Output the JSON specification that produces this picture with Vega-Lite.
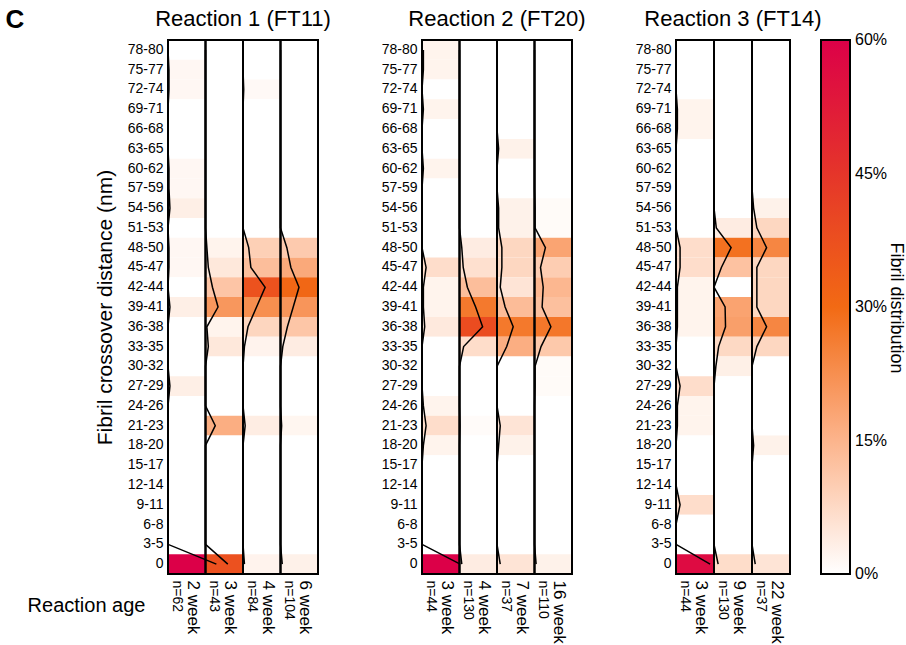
{
"$schema": "https://vega.github.io/schema/vega-lite/v6.json",
"background": "white",
"padding": {"left": 5, "right": 0, "top": 7, "bottom": 5},
"title": {"text": "C", "orient": "left", "anchor": "end", "angle": 0, "fontSize": 26, "fontWeight": "bold", "font": "Liberation Sans", "baseline": "top", "offset": -17, "color": "black"},
"config": {
  "font": "Liberation Sans",
  "view": {"stroke": "black", "strokeWidth": 2},
  "axis": {"labelColor": "black", "titleColor": "black", "labelFont": "Liberation Sans", "titleFont": "Liberation Sans"},
  "legend": {"labelColor": "black", "titleColor": "black"},
  "title": {"color": "black"}
},
"datasets": {"cells": [
{"reaction":"R1","age":"2 week|n=62","bin":"78-80","lo":78,"share":0},
{"reaction":"R1","age":"2 week|n=62","bin":"75-77","lo":75,"share":0.016},
{"reaction":"R1","age":"2 week|n=62","bin":"72-74","lo":72,"share":0.016},
{"reaction":"R1","age":"2 week|n=62","bin":"69-71","lo":69,"share":0},
{"reaction":"R1","age":"2 week|n=62","bin":"66-68","lo":66,"share":0},
{"reaction":"R1","age":"2 week|n=62","bin":"63-65","lo":63,"share":0},
{"reaction":"R1","age":"2 week|n=62","bin":"60-62","lo":60,"share":0.016},
{"reaction":"R1","age":"2 week|n=62","bin":"57-59","lo":57,"share":0.016},
{"reaction":"R1","age":"2 week|n=62","bin":"54-56","lo":54,"share":0.032},
{"reaction":"R1","age":"2 week|n=62","bin":"51-53","lo":51,"share":0},
{"reaction":"R1","age":"2 week|n=62","bin":"48-50","lo":48,"share":0.016},
{"reaction":"R1","age":"2 week|n=62","bin":"45-47","lo":45,"share":0.016},
{"reaction":"R1","age":"2 week|n=62","bin":"42-44","lo":42,"share":0},
{"reaction":"R1","age":"2 week|n=62","bin":"39-41","lo":39,"share":0.032},
{"reaction":"R1","age":"2 week|n=62","bin":"36-38","lo":36,"share":0},
{"reaction":"R1","age":"2 week|n=62","bin":"33-35","lo":33,"share":0},
{"reaction":"R1","age":"2 week|n=62","bin":"30-32","lo":30,"share":0},
{"reaction":"R1","age":"2 week|n=62","bin":"27-29","lo":27,"share":0.032},
{"reaction":"R1","age":"2 week|n=62","bin":"24-26","lo":24,"share":0},
{"reaction":"R1","age":"2 week|n=62","bin":"21-23","lo":21,"share":0},
{"reaction":"R1","age":"2 week|n=62","bin":"18-20","lo":18,"share":0},
{"reaction":"R1","age":"2 week|n=62","bin":"15-17","lo":15,"share":0},
{"reaction":"R1","age":"2 week|n=62","bin":"12-14","lo":12,"share":0},
{"reaction":"R1","age":"2 week|n=62","bin":"9-11","lo":9,"share":0},
{"reaction":"R1","age":"2 week|n=62","bin":"6-8","lo":6,"share":0},
{"reaction":"R1","age":"2 week|n=62","bin":"3-5","lo":3,"share":0},
{"reaction":"R1","age":"2 week|n=62","bin":"0","lo":0,"share":0.806},
{"reaction":"R1","age":"3 week|n=43","bin":"78-80","lo":78,"share":0},
{"reaction":"R1","age":"3 week|n=43","bin":"75-77","lo":75,"share":0},
{"reaction":"R1","age":"3 week|n=43","bin":"72-74","lo":72,"share":0},
{"reaction":"R1","age":"3 week|n=43","bin":"69-71","lo":69,"share":0},
{"reaction":"R1","age":"3 week|n=43","bin":"66-68","lo":66,"share":0},
{"reaction":"R1","age":"3 week|n=43","bin":"63-65","lo":63,"share":0},
{"reaction":"R1","age":"3 week|n=43","bin":"60-62","lo":60,"share":0},
{"reaction":"R1","age":"3 week|n=43","bin":"57-59","lo":57,"share":0},
{"reaction":"R1","age":"3 week|n=43","bin":"54-56","lo":54,"share":0},
{"reaction":"R1","age":"3 week|n=43","bin":"51-53","lo":51,"share":0},
{"reaction":"R1","age":"3 week|n=43","bin":"48-50","lo":48,"share":0.023},
{"reaction":"R1","age":"3 week|n=43","bin":"45-47","lo":45,"share":0.047},
{"reaction":"R1","age":"3 week|n=43","bin":"42-44","lo":42,"share":0.116},
{"reaction":"R1","age":"3 week|n=43","bin":"39-41","lo":39,"share":0.209},
{"reaction":"R1","age":"3 week|n=43","bin":"36-38","lo":36,"share":0.023},
{"reaction":"R1","age":"3 week|n=43","bin":"33-35","lo":33,"share":0.047},
{"reaction":"R1","age":"3 week|n=43","bin":"30-32","lo":30,"share":0},
{"reaction":"R1","age":"3 week|n=43","bin":"27-29","lo":27,"share":0},
{"reaction":"R1","age":"3 week|n=43","bin":"24-26","lo":24,"share":0},
{"reaction":"R1","age":"3 week|n=43","bin":"21-23","lo":21,"share":0.163},
{"reaction":"R1","age":"3 week|n=43","bin":"18-20","lo":18,"share":0},
{"reaction":"R1","age":"3 week|n=43","bin":"15-17","lo":15,"share":0},
{"reaction":"R1","age":"3 week|n=43","bin":"12-14","lo":12,"share":0},
{"reaction":"R1","age":"3 week|n=43","bin":"9-11","lo":9,"share":0},
{"reaction":"R1","age":"3 week|n=43","bin":"6-8","lo":6,"share":0},
{"reaction":"R1","age":"3 week|n=43","bin":"3-5","lo":3,"share":0},
{"reaction":"R1","age":"3 week|n=43","bin":"0","lo":0,"share":0.372},
{"reaction":"R1","age":"4 week|n=84","bin":"78-80","lo":78,"share":0},
{"reaction":"R1","age":"4 week|n=84","bin":"75-77","lo":75,"share":0},
{"reaction":"R1","age":"4 week|n=84","bin":"72-74","lo":72,"share":0.012},
{"reaction":"R1","age":"4 week|n=84","bin":"69-71","lo":69,"share":0},
{"reaction":"R1","age":"4 week|n=84","bin":"66-68","lo":66,"share":0},
{"reaction":"R1","age":"4 week|n=84","bin":"63-65","lo":63,"share":0},
{"reaction":"R1","age":"4 week|n=84","bin":"60-62","lo":60,"share":0},
{"reaction":"R1","age":"4 week|n=84","bin":"57-59","lo":57,"share":0},
{"reaction":"R1","age":"4 week|n=84","bin":"54-56","lo":54,"share":0},
{"reaction":"R1","age":"4 week|n=84","bin":"51-53","lo":51,"share":0},
{"reaction":"R1","age":"4 week|n=84","bin":"48-50","lo":48,"share":0.095},
{"reaction":"R1","age":"4 week|n=84","bin":"45-47","lo":45,"share":0.131},
{"reaction":"R1","age":"4 week|n=84","bin":"42-44","lo":42,"share":0.369},
{"reaction":"R1","age":"4 week|n=84","bin":"39-41","lo":39,"share":0.226},
{"reaction":"R1","age":"4 week|n=84","bin":"36-38","lo":36,"share":0.083},
{"reaction":"R1","age":"4 week|n=84","bin":"33-35","lo":33,"share":0.024},
{"reaction":"R1","age":"4 week|n=84","bin":"30-32","lo":30,"share":0},
{"reaction":"R1","age":"4 week|n=84","bin":"27-29","lo":27,"share":0},
{"reaction":"R1","age":"4 week|n=84","bin":"24-26","lo":24,"share":0},
{"reaction":"R1","age":"4 week|n=84","bin":"21-23","lo":21,"share":0.036},
{"reaction":"R1","age":"4 week|n=84","bin":"18-20","lo":18,"share":0},
{"reaction":"R1","age":"4 week|n=84","bin":"15-17","lo":15,"share":0},
{"reaction":"R1","age":"4 week|n=84","bin":"12-14","lo":12,"share":0},
{"reaction":"R1","age":"4 week|n=84","bin":"9-11","lo":9,"share":0},
{"reaction":"R1","age":"4 week|n=84","bin":"6-8","lo":6,"share":0},
{"reaction":"R1","age":"4 week|n=84","bin":"3-5","lo":3,"share":0},
{"reaction":"R1","age":"4 week|n=84","bin":"0","lo":0,"share":0.024},
{"reaction":"R1","age":"6 week|n=104","bin":"78-80","lo":78,"share":0},
{"reaction":"R1","age":"6 week|n=104","bin":"75-77","lo":75,"share":0},
{"reaction":"R1","age":"6 week|n=104","bin":"72-74","lo":72,"share":0},
{"reaction":"R1","age":"6 week|n=104","bin":"69-71","lo":69,"share":0},
{"reaction":"R1","age":"6 week|n=104","bin":"66-68","lo":66,"share":0},
{"reaction":"R1","age":"6 week|n=104","bin":"63-65","lo":63,"share":0},
{"reaction":"R1","age":"6 week|n=104","bin":"60-62","lo":60,"share":0},
{"reaction":"R1","age":"6 week|n=104","bin":"57-59","lo":57,"share":0},
{"reaction":"R1","age":"6 week|n=104","bin":"54-56","lo":54,"share":0},
{"reaction":"R1","age":"6 week|n=104","bin":"51-53","lo":51,"share":0},
{"reaction":"R1","age":"6 week|n=104","bin":"48-50","lo":48,"share":0.106},
{"reaction":"R1","age":"6 week|n=104","bin":"45-47","lo":45,"share":0.173},
{"reaction":"R1","age":"6 week|n=104","bin":"42-44","lo":42,"share":0.308},
{"reaction":"R1","age":"6 week|n=104","bin":"39-41","lo":39,"share":0.212},
{"reaction":"R1","age":"6 week|n=104","bin":"36-38","lo":36,"share":0.115},
{"reaction":"R1","age":"6 week|n=104","bin":"33-35","lo":33,"share":0.038},
{"reaction":"R1","age":"6 week|n=104","bin":"30-32","lo":30,"share":0},
{"reaction":"R1","age":"6 week|n=104","bin":"27-29","lo":27,"share":0},
{"reaction":"R1","age":"6 week|n=104","bin":"24-26","lo":24,"share":0},
{"reaction":"R1","age":"6 week|n=104","bin":"21-23","lo":21,"share":0.019},
{"reaction":"R1","age":"6 week|n=104","bin":"18-20","lo":18,"share":0},
{"reaction":"R1","age":"6 week|n=104","bin":"15-17","lo":15,"share":0},
{"reaction":"R1","age":"6 week|n=104","bin":"12-14","lo":12,"share":0},
{"reaction":"R1","age":"6 week|n=104","bin":"9-11","lo":9,"share":0},
{"reaction":"R1","age":"6 week|n=104","bin":"6-8","lo":6,"share":0},
{"reaction":"R1","age":"6 week|n=104","bin":"3-5","lo":3,"share":0},
{"reaction":"R1","age":"6 week|n=104","bin":"0","lo":0,"share":0.029},
{"reaction":"R2","age":"3 week|n=44","bin":"78-80","lo":78,"share":0.023},
{"reaction":"R2","age":"3 week|n=44","bin":"75-77","lo":75,"share":0.023},
{"reaction":"R2","age":"3 week|n=44","bin":"72-74","lo":72,"share":0},
{"reaction":"R2","age":"3 week|n=44","bin":"69-71","lo":69,"share":0.023},
{"reaction":"R2","age":"3 week|n=44","bin":"66-68","lo":66,"share":0},
{"reaction":"R2","age":"3 week|n=44","bin":"63-65","lo":63,"share":0},
{"reaction":"R2","age":"3 week|n=44","bin":"60-62","lo":60,"share":0.023},
{"reaction":"R2","age":"3 week|n=44","bin":"57-59","lo":57,"share":0},
{"reaction":"R2","age":"3 week|n=44","bin":"54-56","lo":54,"share":0},
{"reaction":"R2","age":"3 week|n=44","bin":"51-53","lo":51,"share":0},
{"reaction":"R2","age":"3 week|n=44","bin":"48-50","lo":48,"share":0},
{"reaction":"R2","age":"3 week|n=44","bin":"45-47","lo":45,"share":0.068},
{"reaction":"R2","age":"3 week|n=44","bin":"42-44","lo":42,"share":0.023},
{"reaction":"R2","age":"3 week|n=44","bin":"39-41","lo":39,"share":0.023},
{"reaction":"R2","age":"3 week|n=44","bin":"36-38","lo":36,"share":0.045},
{"reaction":"R2","age":"3 week|n=44","bin":"33-35","lo":33,"share":0},
{"reaction":"R2","age":"3 week|n=44","bin":"30-32","lo":30,"share":0},
{"reaction":"R2","age":"3 week|n=44","bin":"27-29","lo":27,"share":0},
{"reaction":"R2","age":"3 week|n=44","bin":"24-26","lo":24,"share":0.023},
{"reaction":"R2","age":"3 week|n=44","bin":"21-23","lo":21,"share":0.068},
{"reaction":"R2","age":"3 week|n=44","bin":"18-20","lo":18,"share":0.023},
{"reaction":"R2","age":"3 week|n=44","bin":"15-17","lo":15,"share":0},
{"reaction":"R2","age":"3 week|n=44","bin":"12-14","lo":12,"share":0},
{"reaction":"R2","age":"3 week|n=44","bin":"9-11","lo":9,"share":0},
{"reaction":"R2","age":"3 week|n=44","bin":"6-8","lo":6,"share":0},
{"reaction":"R2","age":"3 week|n=44","bin":"3-5","lo":3,"share":0},
{"reaction":"R2","age":"3 week|n=44","bin":"0","lo":0,"share":0.636},
{"reaction":"R2","age":"4 week|n=130","bin":"78-80","lo":78,"share":0},
{"reaction":"R2","age":"4 week|n=130","bin":"75-77","lo":75,"share":0},
{"reaction":"R2","age":"4 week|n=130","bin":"72-74","lo":72,"share":0},
{"reaction":"R2","age":"4 week|n=130","bin":"69-71","lo":69,"share":0},
{"reaction":"R2","age":"4 week|n=130","bin":"66-68","lo":66,"share":0},
{"reaction":"R2","age":"4 week|n=130","bin":"63-65","lo":63,"share":0},
{"reaction":"R2","age":"4 week|n=130","bin":"60-62","lo":60,"share":0},
{"reaction":"R2","age":"4 week|n=130","bin":"57-59","lo":57,"share":0},
{"reaction":"R2","age":"4 week|n=130","bin":"54-56","lo":54,"share":0},
{"reaction":"R2","age":"4 week|n=130","bin":"51-53","lo":51,"share":0},
{"reaction":"R2","age":"4 week|n=130","bin":"48-50","lo":48,"share":0.038},
{"reaction":"R2","age":"4 week|n=130","bin":"45-47","lo":45,"share":0.062},
{"reaction":"R2","age":"4 week|n=130","bin":"42-44","lo":42,"share":0.131},
{"reaction":"R2","age":"4 week|n=130","bin":"39-41","lo":39,"share":0.269},
{"reaction":"R2","age":"4 week|n=130","bin":"36-38","lo":36,"share":0.385},
{"reaction":"R2","age":"4 week|n=130","bin":"33-35","lo":33,"share":0.069},
{"reaction":"R2","age":"4 week|n=130","bin":"30-32","lo":30,"share":0},
{"reaction":"R2","age":"4 week|n=130","bin":"27-29","lo":27,"share":0},
{"reaction":"R2","age":"4 week|n=130","bin":"24-26","lo":24,"share":0},
{"reaction":"R2","age":"4 week|n=130","bin":"21-23","lo":21,"share":0.008},
{"reaction":"R2","age":"4 week|n=130","bin":"18-20","lo":18,"share":0},
{"reaction":"R2","age":"4 week|n=130","bin":"15-17","lo":15,"share":0},
{"reaction":"R2","age":"4 week|n=130","bin":"12-14","lo":12,"share":0},
{"reaction":"R2","age":"4 week|n=130","bin":"9-11","lo":9,"share":0},
{"reaction":"R2","age":"4 week|n=130","bin":"6-8","lo":6,"share":0},
{"reaction":"R2","age":"4 week|n=130","bin":"3-5","lo":3,"share":0},
{"reaction":"R2","age":"4 week|n=130","bin":"0","lo":0,"share":0.038},
{"reaction":"R2","age":"7 week|n=37","bin":"78-80","lo":78,"share":0},
{"reaction":"R2","age":"7 week|n=37","bin":"75-77","lo":75,"share":0},
{"reaction":"R2","age":"7 week|n=37","bin":"72-74","lo":72,"share":0},
{"reaction":"R2","age":"7 week|n=37","bin":"69-71","lo":69,"share":0},
{"reaction":"R2","age":"7 week|n=37","bin":"66-68","lo":66,"share":0},
{"reaction":"R2","age":"7 week|n=37","bin":"63-65","lo":63,"share":0.027},
{"reaction":"R2","age":"7 week|n=37","bin":"60-62","lo":60,"share":0},
{"reaction":"R2","age":"7 week|n=37","bin":"57-59","lo":57,"share":0},
{"reaction":"R2","age":"7 week|n=37","bin":"54-56","lo":54,"share":0.027},
{"reaction":"R2","age":"7 week|n=37","bin":"51-53","lo":51,"share":0.027},
{"reaction":"R2","age":"7 week|n=37","bin":"48-50","lo":48,"share":0.081},
{"reaction":"R2","age":"7 week|n=37","bin":"45-47","lo":45,"share":0.081},
{"reaction":"R2","age":"7 week|n=37","bin":"42-44","lo":42,"share":0.054},
{"reaction":"R2","age":"7 week|n=37","bin":"39-41","lo":39,"share":0.135},
{"reaction":"R2","age":"7 week|n=37","bin":"36-38","lo":36,"share":0.27},
{"reaction":"R2","age":"7 week|n=37","bin":"33-35","lo":33,"share":0.162},
{"reaction":"R2","age":"7 week|n=37","bin":"30-32","lo":30,"share":0},
{"reaction":"R2","age":"7 week|n=37","bin":"27-29","lo":27,"share":0},
{"reaction":"R2","age":"7 week|n=37","bin":"24-26","lo":24,"share":0},
{"reaction":"R2","age":"7 week|n=37","bin":"21-23","lo":21,"share":0.054},
{"reaction":"R2","age":"7 week|n=37","bin":"18-20","lo":18,"share":0.027},
{"reaction":"R2","age":"7 week|n=37","bin":"15-17","lo":15,"share":0},
{"reaction":"R2","age":"7 week|n=37","bin":"12-14","lo":12,"share":0},
{"reaction":"R2","age":"7 week|n=37","bin":"9-11","lo":9,"share":0},
{"reaction":"R2","age":"7 week|n=37","bin":"6-8","lo":6,"share":0},
{"reaction":"R2","age":"7 week|n=37","bin":"3-5","lo":3,"share":0},
{"reaction":"R2","age":"7 week|n=37","bin":"0","lo":0,"share":0.054},
{"reaction":"R2","age":"16 week|n=110","bin":"78-80","lo":78,"share":0},
{"reaction":"R2","age":"16 week|n=110","bin":"75-77","lo":75,"share":0},
{"reaction":"R2","age":"16 week|n=110","bin":"72-74","lo":72,"share":0},
{"reaction":"R2","age":"16 week|n=110","bin":"69-71","lo":69,"share":0},
{"reaction":"R2","age":"16 week|n=110","bin":"66-68","lo":66,"share":0},
{"reaction":"R2","age":"16 week|n=110","bin":"63-65","lo":63,"share":0},
{"reaction":"R2","age":"16 week|n=110","bin":"60-62","lo":60,"share":0},
{"reaction":"R2","age":"16 week|n=110","bin":"57-59","lo":57,"share":0},
{"reaction":"R2","age":"16 week|n=110","bin":"54-56","lo":54,"share":0.009},
{"reaction":"R2","age":"16 week|n=110","bin":"51-53","lo":51,"share":0.009},
{"reaction":"R2","age":"16 week|n=110","bin":"48-50","lo":48,"share":0.182},
{"reaction":"R2","age":"16 week|n=110","bin":"45-47","lo":45,"share":0.1},
{"reaction":"R2","age":"16 week|n=110","bin":"42-44","lo":42,"share":0.145},
{"reaction":"R2","age":"16 week|n=110","bin":"39-41","lo":39,"share":0.127},
{"reaction":"R2","age":"16 week|n=110","bin":"36-38","lo":36,"share":0.273},
{"reaction":"R2","age":"16 week|n=110","bin":"33-35","lo":33,"share":0.109},
{"reaction":"R2","age":"16 week|n=110","bin":"30-32","lo":30,"share":0.009},
{"reaction":"R2","age":"16 week|n=110","bin":"27-29","lo":27,"share":0.009},
{"reaction":"R2","age":"16 week|n=110","bin":"24-26","lo":24,"share":0},
{"reaction":"R2","age":"16 week|n=110","bin":"21-23","lo":21,"share":0},
{"reaction":"R2","age":"16 week|n=110","bin":"18-20","lo":18,"share":0},
{"reaction":"R2","age":"16 week|n=110","bin":"15-17","lo":15,"share":0},
{"reaction":"R2","age":"16 week|n=110","bin":"12-14","lo":12,"share":0},
{"reaction":"R2","age":"16 week|n=110","bin":"9-11","lo":9,"share":0},
{"reaction":"R2","age":"16 week|n=110","bin":"6-8","lo":6,"share":0},
{"reaction":"R2","age":"16 week|n=110","bin":"3-5","lo":3,"share":0},
{"reaction":"R2","age":"16 week|n=110","bin":"0","lo":0,"share":0.027},
{"reaction":"R3","age":"3 week|n=44","bin":"78-80","lo":78,"share":0},
{"reaction":"R3","age":"3 week|n=44","bin":"75-77","lo":75,"share":0},
{"reaction":"R3","age":"3 week|n=44","bin":"72-74","lo":72,"share":0},
{"reaction":"R3","age":"3 week|n=44","bin":"69-71","lo":69,"share":0.023},
{"reaction":"R3","age":"3 week|n=44","bin":"66-68","lo":66,"share":0.023},
{"reaction":"R3","age":"3 week|n=44","bin":"63-65","lo":63,"share":0},
{"reaction":"R3","age":"3 week|n=44","bin":"60-62","lo":60,"share":0},
{"reaction":"R3","age":"3 week|n=44","bin":"57-59","lo":57,"share":0},
{"reaction":"R3","age":"3 week|n=44","bin":"54-56","lo":54,"share":0},
{"reaction":"R3","age":"3 week|n=44","bin":"51-53","lo":51,"share":0},
{"reaction":"R3","age":"3 week|n=44","bin":"48-50","lo":48,"share":0.068},
{"reaction":"R3","age":"3 week|n=44","bin":"45-47","lo":45,"share":0.068},
{"reaction":"R3","age":"3 week|n=44","bin":"42-44","lo":42,"share":0.023},
{"reaction":"R3","age":"3 week|n=44","bin":"39-41","lo":39,"share":0.023},
{"reaction":"R3","age":"3 week|n=44","bin":"36-38","lo":36,"share":0.023},
{"reaction":"R3","age":"3 week|n=44","bin":"33-35","lo":33,"share":0},
{"reaction":"R3","age":"3 week|n=44","bin":"30-32","lo":30,"share":0},
{"reaction":"R3","age":"3 week|n=44","bin":"27-29","lo":27,"share":0.068},
{"reaction":"R3","age":"3 week|n=44","bin":"24-26","lo":24,"share":0.023},
{"reaction":"R3","age":"3 week|n=44","bin":"21-23","lo":21,"share":0.023},
{"reaction":"R3","age":"3 week|n=44","bin":"18-20","lo":18,"share":0},
{"reaction":"R3","age":"3 week|n=44","bin":"15-17","lo":15,"share":0},
{"reaction":"R3","age":"3 week|n=44","bin":"12-14","lo":12,"share":0},
{"reaction":"R3","age":"3 week|n=44","bin":"9-11","lo":9,"share":0.068},
{"reaction":"R3","age":"3 week|n=44","bin":"6-8","lo":6,"share":0},
{"reaction":"R3","age":"3 week|n=44","bin":"3-5","lo":3,"share":0},
{"reaction":"R3","age":"3 week|n=44","bin":"0","lo":0,"share":0.568},
{"reaction":"R3","age":"9 week|n=130","bin":"78-80","lo":78,"share":0},
{"reaction":"R3","age":"9 week|n=130","bin":"75-77","lo":75,"share":0},
{"reaction":"R3","age":"9 week|n=130","bin":"72-74","lo":72,"share":0},
{"reaction":"R3","age":"9 week|n=130","bin":"69-71","lo":69,"share":0},
{"reaction":"R3","age":"9 week|n=130","bin":"66-68","lo":66,"share":0},
{"reaction":"R3","age":"9 week|n=130","bin":"63-65","lo":63,"share":0},
{"reaction":"R3","age":"9 week|n=130","bin":"60-62","lo":60,"share":0},
{"reaction":"R3","age":"9 week|n=130","bin":"57-59","lo":57,"share":0},
{"reaction":"R3","age":"9 week|n=130","bin":"54-56","lo":54,"share":0},
{"reaction":"R3","age":"9 week|n=130","bin":"51-53","lo":51,"share":0.038},
{"reaction":"R3","age":"9 week|n=130","bin":"48-50","lo":48,"share":0.285},
{"reaction":"R3","age":"9 week|n=130","bin":"45-47","lo":45,"share":0.123},
{"reaction":"R3","age":"9 week|n=130","bin":"42-44","lo":42,"share":0},
{"reaction":"R3","age":"9 week|n=130","bin":"39-41","lo":39,"share":0.185},
{"reaction":"R3","age":"9 week|n=130","bin":"36-38","lo":36,"share":0.192},
{"reaction":"R3","age":"9 week|n=130","bin":"33-35","lo":33,"share":0.077},
{"reaction":"R3","age":"9 week|n=130","bin":"30-32","lo":30,"share":0.031},
{"reaction":"R3","age":"9 week|n=130","bin":"27-29","lo":27,"share":0},
{"reaction":"R3","age":"9 week|n=130","bin":"24-26","lo":24,"share":0},
{"reaction":"R3","age":"9 week|n=130","bin":"21-23","lo":21,"share":0},
{"reaction":"R3","age":"9 week|n=130","bin":"18-20","lo":18,"share":0},
{"reaction":"R3","age":"9 week|n=130","bin":"15-17","lo":15,"share":0},
{"reaction":"R3","age":"9 week|n=130","bin":"12-14","lo":12,"share":0},
{"reaction":"R3","age":"9 week|n=130","bin":"9-11","lo":9,"share":0},
{"reaction":"R3","age":"9 week|n=130","bin":"6-8","lo":6,"share":0},
{"reaction":"R3","age":"9 week|n=130","bin":"3-5","lo":3,"share":0},
{"reaction":"R3","age":"9 week|n=130","bin":"0","lo":0,"share":0.069},
{"reaction":"R3","age":"22 week|n=37","bin":"78-80","lo":78,"share":0},
{"reaction":"R3","age":"22 week|n=37","bin":"75-77","lo":75,"share":0},
{"reaction":"R3","age":"22 week|n=37","bin":"72-74","lo":72,"share":0},
{"reaction":"R3","age":"22 week|n=37","bin":"69-71","lo":69,"share":0},
{"reaction":"R3","age":"22 week|n=37","bin":"66-68","lo":66,"share":0},
{"reaction":"R3","age":"22 week|n=37","bin":"63-65","lo":63,"share":0},
{"reaction":"R3","age":"22 week|n=37","bin":"60-62","lo":60,"share":0},
{"reaction":"R3","age":"22 week|n=37","bin":"57-59","lo":57,"share":0},
{"reaction":"R3","age":"22 week|n=37","bin":"54-56","lo":54,"share":0.027},
{"reaction":"R3","age":"22 week|n=37","bin":"51-53","lo":51,"share":0.081},
{"reaction":"R3","age":"22 week|n=37","bin":"48-50","lo":48,"share":0.243},
{"reaction":"R3","age":"22 week|n=37","bin":"45-47","lo":45,"share":0.081},
{"reaction":"R3","age":"22 week|n=37","bin":"42-44","lo":42,"share":0.081},
{"reaction":"R3","age":"22 week|n=37","bin":"39-41","lo":39,"share":0.081},
{"reaction":"R3","age":"22 week|n=37","bin":"36-38","lo":36,"share":0.243},
{"reaction":"R3","age":"22 week|n=37","bin":"33-35","lo":33,"share":0.081},
{"reaction":"R3","age":"22 week|n=37","bin":"30-32","lo":30,"share":0},
{"reaction":"R3","age":"22 week|n=37","bin":"27-29","lo":27,"share":0},
{"reaction":"R3","age":"22 week|n=37","bin":"24-26","lo":24,"share":0},
{"reaction":"R3","age":"22 week|n=37","bin":"21-23","lo":21,"share":0},
{"reaction":"R3","age":"22 week|n=37","bin":"18-20","lo":18,"share":0.027},
{"reaction":"R3","age":"22 week|n=37","bin":"15-17","lo":15,"share":0},
{"reaction":"R3","age":"22 week|n=37","bin":"12-14","lo":12,"share":0},
{"reaction":"R3","age":"22 week|n=37","bin":"9-11","lo":9,"share":0},
{"reaction":"R3","age":"22 week|n=37","bin":"6-8","lo":6,"share":0},
{"reaction":"R3","age":"22 week|n=37","bin":"3-5","lo":3,"share":0},
{"reaction":"R3","age":"22 week|n=37","bin":"0","lo":0,"share":0.054}
]},
"spacing": 104,
"bounds": "flush",
"hconcat": [
{
  "title": {"text": "Reaction 1 (FT11)", "fontSize": 22, "fontWeight": "normal", "offset": 8},
  "data": {"name": "cells"},
  "transform": [{"filter": "datum.reaction === 'R1'"}],
  "width": 150, "height": 534,
  "layer": [
    {"mark": {"type": "rect"},
     "encoding": {
       "x": {"field": "age", "type": "nominal", "scale": {"domain": ["2 week|n=62","3 week|n=43","4 week|n=84","6 week|n=104"], "paddingInner": 0, "paddingOuter": 0},
             "axis": {"orient": "bottom", "title": "Reaction age", "titleFontSize": 20, "titleFontWeight": "normal", "titleX": -82, "titleY": 31, "titleAlign": "center", "titleBaseline": "middle", "labelExpr": "split(datum.value, '|')[0]", "labelAngle": 90, "labelAlign": "left", "labelBaseline": "middle", "labelFontSize": 17, "labelOffset": 6, "labelPadding": 6, "ticks": false, "domain": false}},
       "y": {"field": "bin", "type": "nominal", "scale": {"domain": ["78-80","75-77","72-74","69-71","66-68","63-65","60-62","57-59","54-56","51-53","48-50","45-47","42-44","39-41","36-38","33-35","30-32","27-29","24-26","21-23","18-20","15-17","12-14","9-11","6-8","3-5","0"], "paddingInner": 0, "paddingOuter": 0},
             "axis": {"title": "Fibril crossover distance (nm)", "titleFontSize": 21, "titleFontWeight": "normal", "titlePadding": 12, "labelFontSize": 14, "labelPadding": 5, "ticks": false, "domain": false}},
       "fill": {"field": "share", "type": "quantitative",
                "scale": {"type": "linear", "domain": [0, 0.15, 0.3, 0.45, 0.6], "range": ["#ffffff", "#fcb48c", "#f26a14", "#e5352a", "#dc0048"], "clamp": true, "interpolate": "rgb"},
                "legend": {"title": "Fibril distribution", "titleOrient": "right", "titleAngle": 90, "titleFontSize": 18, "titleFontWeight": "normal", "titleAnchor": "middle", "titleBaseline": "bottom", "titlePadding": 0, "gradientLength": 534, "gradientThickness": 29, "gradientStrokeColor": "black", "gradientStrokeWidth": 2, "values": [0, 0.15, 0.3, 0.45, 0.6], "format": ".0%", "labelFontSize": 16, "labelOffset": 5, "labelBaseline": "middle", "offset": -2, "direction": "vertical",
                           "encode": {"labels": {"update": {"baseline": {"value": "middle"}}}}}}
     }},
    {"transform": [{"aggregate": [{"op": "count", "as": "k"}], "groupby": ["age"]}],
     "mark": {"type": "rect", "fill": null, "stroke": "black", "strokeWidth": 2},
     "encoding": {
       "x": {"field": "age", "type": "nominal",
             "axis": {"orient": "bottom", "title": null, "labelExpr": "split(datum.value, '|')[1]", "labelAngle": 90, "labelAlign": "left", "labelBaseline": "middle", "labelFontSize": 14, "labelOffset": -10, "labelPadding": 6, "ticks": false, "domain": false}}
     }},
    {"mark": {"type": "line", "color": "black", "strokeWidth": 1.5},
     "encoding": {
       "x": {"field": "age", "type": "nominal", "bandPosition": 0, "axis": null},
       "xOffset": {"field": "share", "type": "quantitative", "scale": {"domain": [0, 0.6], "range": [0, 36]}},
       "y": {"field": "bin", "type": "nominal"},
       "detail": {"field": "age"},
       "order": {"field": "lo", "type": "quantitative"}
     }}
  ],
  "resolve": {"axis": {"x": "independent"}, "scale": {"xOffset": "independent"}}
},
{
  "title": {"text": "Reaction 2 (FT20)", "fontSize": 22, "fontWeight": "normal", "offset": 8},
  "data": {"name": "cells"},
  "transform": [{"filter": "datum.reaction === 'R2'"}],
  "width": 150, "height": 534,
  "layer": [
    {"mark": {"type": "rect"},
     "encoding": {
       "x": {"field": "age", "type": "nominal", "scale": {"domain": ["3 week|n=44","4 week|n=130","7 week|n=37","16 week|n=110"], "paddingInner": 0, "paddingOuter": 0},
             "axis": {"orient": "bottom", "title": null, "labelExpr": "split(datum.value, '|')[0]", "labelAngle": 90, "labelAlign": "left", "labelBaseline": "middle", "labelFontSize": 17, "labelOffset": 6, "labelPadding": 6, "ticks": false, "domain": false}},
       "y": {"field": "bin", "type": "nominal", "scale": {"domain": ["78-80","75-77","72-74","69-71","66-68","63-65","60-62","57-59","54-56","51-53","48-50","45-47","42-44","39-41","36-38","33-35","30-32","27-29","24-26","21-23","18-20","15-17","12-14","9-11","6-8","3-5","0"], "paddingInner": 0, "paddingOuter": 0},
             "axis": {"title": null, "labelFontSize": 14, "labelPadding": 5, "ticks": false, "domain": false}},
       "fill": {"field": "share", "type": "quantitative",
                "scale": {"type": "linear", "domain": [0, 0.15, 0.3, 0.45, 0.6], "range": ["#ffffff", "#fcb48c", "#f26a14", "#e5352a", "#dc0048"], "clamp": true, "interpolate": "rgb"}}
     }},
    {"transform": [{"aggregate": [{"op": "count", "as": "k"}], "groupby": ["age"]}],
     "mark": {"type": "rect", "fill": null, "stroke": "black", "strokeWidth": 2},
     "encoding": {
       "x": {"field": "age", "type": "nominal",
             "axis": {"orient": "bottom", "title": null, "labelExpr": "split(datum.value, '|')[1]", "labelAngle": 90, "labelAlign": "left", "labelBaseline": "middle", "labelFontSize": 14, "labelOffset": -10, "labelPadding": 6, "ticks": false, "domain": false}}
     }},
    {"mark": {"type": "line", "color": "black", "strokeWidth": 1.5},
     "encoding": {
       "x": {"field": "age", "type": "nominal", "bandPosition": 0, "axis": null},
       "xOffset": {"field": "share", "type": "quantitative", "scale": {"domain": [0, 0.6], "range": [0, 36]}},
       "y": {"field": "bin", "type": "nominal"},
       "detail": {"field": "age"},
       "order": {"field": "lo", "type": "quantitative"}
     }}
  ],
  "resolve": {"axis": {"x": "independent"}, "scale": {"xOffset": "independent"}}
},
{
  "title": {"text": "Reaction 3 (FT14)", "fontSize": 22, "fontWeight": "normal", "offset": 8},
  "data": {"name": "cells"},
  "transform": [{"filter": "datum.reaction === 'R3'"}],
  "width": 114, "height": 534,
  "layer": [
    {"mark": {"type": "rect"},
     "encoding": {
       "x": {"field": "age", "type": "nominal", "scale": {"domain": ["3 week|n=44","9 week|n=130","22 week|n=37"], "paddingInner": 0, "paddingOuter": 0},
             "axis": {"orient": "bottom", "title": null, "labelExpr": "split(datum.value, '|')[0]", "labelAngle": 90, "labelAlign": "left", "labelBaseline": "middle", "labelFontSize": 17, "labelOffset": 6, "labelPadding": 6, "ticks": false, "domain": false}},
       "y": {"field": "bin", "type": "nominal", "scale": {"domain": ["78-80","75-77","72-74","69-71","66-68","63-65","60-62","57-59","54-56","51-53","48-50","45-47","42-44","39-41","36-38","33-35","30-32","27-29","24-26","21-23","18-20","15-17","12-14","9-11","6-8","3-5","0"], "paddingInner": 0, "paddingOuter": 0},
             "axis": {"title": null, "labelFontSize": 14, "labelPadding": 5, "ticks": false, "domain": false}},
       "fill": {"field": "share", "type": "quantitative",
                "scale": {"type": "linear", "domain": [0, 0.15, 0.3, 0.45, 0.6], "range": ["#ffffff", "#fcb48c", "#f26a14", "#e5352a", "#dc0048"], "clamp": true, "interpolate": "rgb"}}
     }},
    {"transform": [{"aggregate": [{"op": "count", "as": "k"}], "groupby": ["age"]}],
     "mark": {"type": "rect", "fill": null, "stroke": "black", "strokeWidth": 2},
     "encoding": {
       "x": {"field": "age", "type": "nominal",
             "axis": {"orient": "bottom", "title": null, "labelExpr": "split(datum.value, '|')[1]", "labelAngle": 90, "labelAlign": "left", "labelBaseline": "middle", "labelFontSize": 14, "labelOffset": -10, "labelPadding": 6, "ticks": false, "domain": false}}
     }},
    {"mark": {"type": "line", "color": "black", "strokeWidth": 1.5},
     "encoding": {
       "x": {"field": "age", "type": "nominal", "bandPosition": 0, "axis": null},
       "xOffset": {"field": "share", "type": "quantitative", "scale": {"domain": [0, 0.6], "range": [0, 36]}},
       "y": {"field": "bin", "type": "nominal"},
       "detail": {"field": "age"},
       "order": {"field": "lo", "type": "quantitative"}
     }}
  ],
  "resolve": {"axis": {"x": "independent"}, "scale": {"xOffset": "independent"}}
}
],
"resolve": {"scale": {"fill": "shared"}}
}
